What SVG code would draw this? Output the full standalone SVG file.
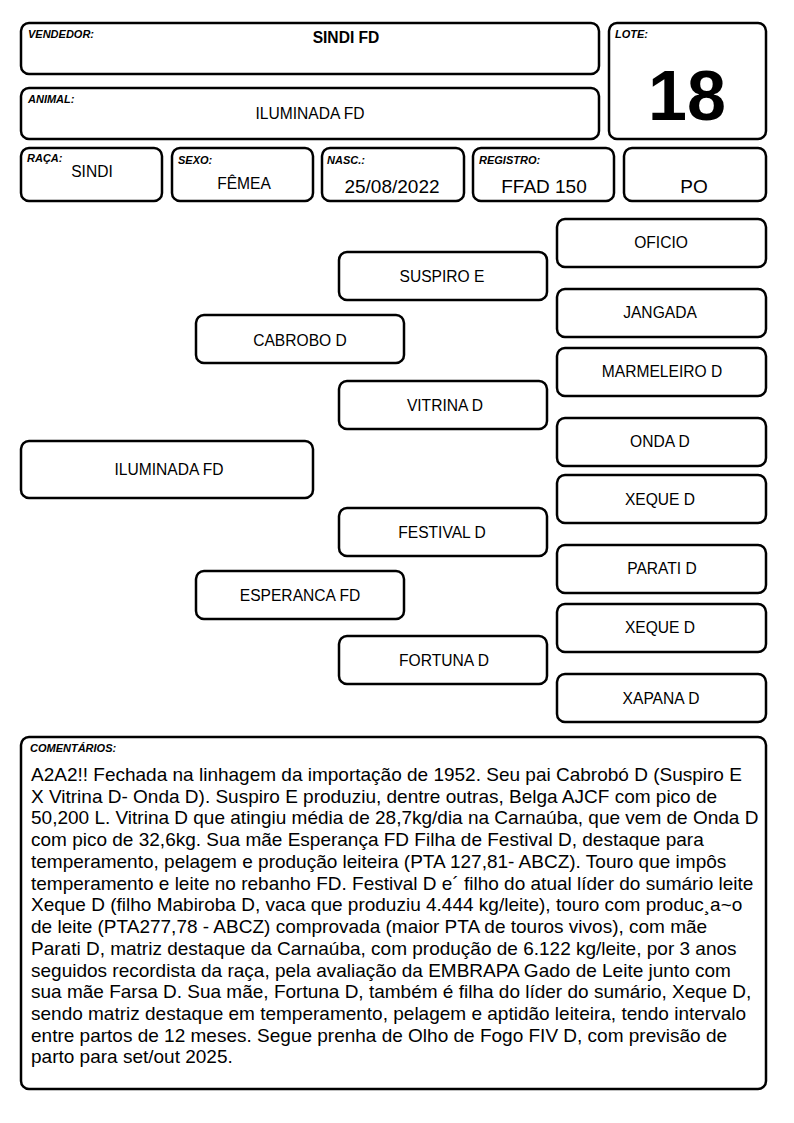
<svg xmlns="http://www.w3.org/2000/svg" width="794" height="1123" viewBox="0 0 794 1123">
<style>
rect{fill:#fff;stroke:#000;stroke-width:2.5}
text{font-family:'Liberation Sans',Arial,sans-serif;fill:#000}
.l{font-size:11px;font-weight:bold;font-style:italic}
.v{font-size:15.6px;text-anchor:middle}
.b{font-size:19px;text-anchor:middle}
.c{font-size:19px}
</style>
<rect x="0" y="0" width="794" height="1123" style="fill:#fff;stroke:none"/>
<g id="vendedor"><rect x="21" y="23" width="578" height="51" rx="8"/><text class="l" x="28" y="38">VENDEDOR:</text><text class="v" x="346" y="43" font-weight="bold" font-size="15.5">SINDI FD</text></g>
<g id="animal"><rect x="21" y="88" width="578" height="51" rx="8"/><text class="l" x="28" y="103">ANIMAL:</text><text class="v" x="310" y="119">ILUMINADA FD</text></g>
<g id="lote"><rect x="609" y="23" width="157" height="116" rx="8"/><text class="l" x="615" y="38">LOTE:</text><text x="687" y="120" font-size="70" font-weight="bold" text-anchor="middle">18</text></g>
<g id="raca"><rect x="21" y="148" width="141" height="53" rx="8"/><text class="l" x="27" y="162">RAÇA:</text><text class="v" x="92" y="177" font-size="13">SINDI</text></g>
<g id="sexo"><rect x="172" y="148" width="141" height="53" rx="8"/><text class="l" x="178" y="164">SEXO:</text><text class="v" x="244" y="189" font-size="13.5">FÊMEA</text></g>
<g id="nasc"><rect x="322" y="148" width="142" height="53" rx="8"/><text class="l" x="327" y="164">NASC.:</text><text class="b" x="392" y="193">25/08/2022</text></g>
<g id="registro"><rect x="473" y="148" width="141" height="53" rx="8"/><text class="l" x="479" y="164">REGISTRO:</text><text class="b" x="544" y="193">FFAD 150</text></g>
<g id="po"><rect x="624" y="148" width="142" height="53" rx="8"/><text class="b" x="694" y="193">PO</text></g>
<g id="oficio"><rect x="557" y="219" width="209" height="48" rx="8"/><text class="v" x="661" y="248">OFICIO</text></g>
<g id="suspiro"><rect x="339" y="252" width="208" height="48" rx="8"/><text class="v" x="442" y="282">SUSPIRO E</text></g>
<g id="jangada"><rect x="557" y="289" width="209" height="48" rx="8"/><text class="v" x="660" y="318">JANGADA</text></g>
<g id="cabrobo"><rect x="196" y="315" width="208" height="48" rx="8"/><text class="v" x="300" y="346">CABROBO D</text></g>
<g id="marmeleiro"><rect x="557" y="348" width="209" height="48" rx="8"/><text class="v" x="662" y="377">MARMELEIRO D</text></g>
<g id="vitrina"><rect x="339" y="381" width="208" height="48" rx="8"/><text class="v" x="445" y="411">VITRINA D</text></g>
<g id="onda"><rect x="557" y="418" width="209" height="48" rx="8"/><text class="v" x="660" y="447">ONDA D</text></g>
<g id="iluminada"><rect x="21" y="441" width="292" height="57" rx="8"/><text class="v" x="169" y="475">ILUMINADA FD</text></g>
<g id="xeque1"><rect x="557" y="475" width="209" height="48" rx="8"/><text class="v" x="660" y="505">XEQUE D</text></g>
<g id="festival"><rect x="339" y="508" width="208" height="48" rx="8"/><text class="v" x="442" y="538">FESTIVAL D</text></g>
<g id="parati"><rect x="557" y="545" width="209" height="48" rx="8"/><text class="v" x="662" y="574">PARATI D</text></g>
<g id="esperanca"><rect x="196" y="571" width="208" height="48" rx="8"/><text class="v" x="300" y="601">ESPERANCA FD</text></g>
<g id="xeque2"><rect x="557" y="604" width="209" height="48" rx="8"/><text class="v" x="660" y="633">XEQUE D</text></g>
<g id="fortuna"><rect x="339" y="636" width="208" height="48" rx="8"/><text class="v" x="444" y="666">FORTUNA D</text></g>
<g id="xapana"><rect x="557" y="674" width="209" height="48" rx="8"/><text class="v" x="661" y="704">XAPANA D</text></g>
<g id="comentarios"><rect x="21" y="737" width="745" height="352" rx="8"/><text class="l" x="30" y="752">COMENTÁRIOS:</text>
<text class="c" x="31" y="781">A2A2!! Fechada na linhagem da importação de 1952. Seu pai Cabrobó D (Suspiro E</text>
<text class="c" x="31" y="803">X Vitrina D- Onda D). Suspiro E produziu, dentre outras, Belga AJCF com pico de</text>
<text class="c" x="31" y="824">50,200 L. Vitrina D que atingiu média de 28,7kg/dia na Carnaúba, que vem de Onda D</text>
<text class="c" x="31" y="846">com pico de 32,6kg. Sua mãe Esperança FD Filha de Festival D, destaque para</text>
<text class="c" x="31" y="868">temperamento, pelagem e produção leiteira (PTA 127,81- ABCZ). Touro que impôs</text>
<text class="c" x="31" y="890">temperamento e leite no rebanho FD. Festival D e´ filho do atual líder do sumário leite</text>
<text class="c" x="31" y="911">Xeque D (filho Mabiroba D, vaca que produziu 4.444 kg/leite), touro com produc¸a~o</text>
<text class="c" x="31" y="933">de leite (PTA277,78 - ABCZ) comprovada (maior PTA de touros vivos), com mãe</text>
<text class="c" x="31" y="955">Parati D, matriz destaque da Carnaúba, com produção de 6.122 kg/leite, por 3 anos</text>
<text class="c" x="31" y="977">seguidos recordista da raça, pela avaliação da EMBRAPA Gado de Leite junto com</text>
<text class="c" x="31" y="998">sua mãe Farsa D. Sua mãe, Fortuna D, também é filha do líder do sumário, Xeque D,</text>
<text class="c" x="31" y="1020">sendo matriz destaque em temperamento, pelagem e aptidão leiteira, tendo intervalo</text>
<text class="c" x="31" y="1042">entre partos de 12 meses. Segue prenha de Olho de Fogo FIV D, com previsão de</text>
<text class="c" x="31" y="1063">parto para set/out 2025.</text>
</g>
</svg>
